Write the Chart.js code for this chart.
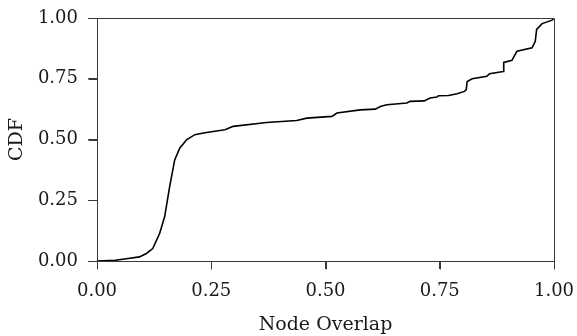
<!DOCTYPE html>
<html>
<head>
<meta charset="utf-8">
<script src="https://cdn.jsdelivr.net/npm/chart.js@4"></script>
<style>
  html, body { margin: 0; padding: 0; background: #fff; }
  #wrap { width: 577px; height: 336px; }
</style>
</head>
<body>
<div id="wrap"><canvas id="cdf"></canvas></div>
<script>
// node overlap values and the CDF
const overlap = [0.000, 0.040, 0.068, 0.093, 0.108, 0.122, 0.137, 0.148, 0.159, 0.170, 0.181, 0.196,
                 0.214, 0.236, 0.280, 0.298, 0.371, 0.437, 0.459, 0.514, 0.525, 0.576, 0.609, 0.620,
                 0.634, 0.678, 0.685, 0.716, 0.729, 0.744, 0.747, 0.769, 0.788, 0.804, 0.808, 0.810,
                 0.821, 0.853, 0.859, 0.889, 0.890, 0.908, 0.912, 0.919, 0.952, 0.959, 0.962, 0.974,
                 0.996, 1.000];
const cdf     = [0.000, 0.003, 0.010, 0.017, 0.031, 0.051, 0.113, 0.182, 0.306, 0.416, 0.464, 0.499,
                 0.520, 0.528, 0.540, 0.554, 0.570, 0.578, 0.588, 0.595, 0.609, 0.622, 0.625, 0.636,
                 0.643, 0.650, 0.657, 0.659, 0.671, 0.675, 0.680, 0.681, 0.688, 0.698, 0.705, 0.739,
                 0.750, 0.760, 0.771, 0.780, 0.817, 0.826, 0.840, 0.863, 0.877, 0.904, 0.953, 0.977,
                 0.991, 1.000];
const tickVals = [0, 0.25, 0.5, 0.75, 1];

const FONT = 'DejaVu Serif';
const AXIS = '#3a3a3a';
const TEXT = '#1a1a1a';

// top/right spines plus the outward tick marks
const boxPlugin = {
  id: 'box',
  afterDraw(chart) {
    const a = chart.chartArea, ctx = chart.ctx;
    const L = Math.round(a.left) + 0.5, R = Math.round(a.right) + 0.5;
    const T = Math.round(a.top) + 0.5, B = Math.round(a.bottom) + 0.5;
    ctx.save();
    ctx.strokeStyle = AXIS;
    ctx.lineWidth = 1;
    ctx.beginPath();
    ctx.moveTo(L, T); ctx.lineTo(R, T); ctx.lineTo(R, B);
    tickVals.forEach(v => {
      const x = Math.round(chart.scales.x.getPixelForValue(v)) + 0.5;
      ctx.moveTo(x, B); ctx.lineTo(x, B + 8);
      const y = Math.round(chart.scales.y.getPixelForValue(v)) + 0.5;
      ctx.moveTo(L, y); ctx.lineTo(L - 9, y);
    });
    ctx.stroke();
    ctx.restore();
  }
};

function axisOpts(title, tickLen, pad, titlePad) {
  return {
    type: 'linear', min: 0, max: 1,
    afterBuildTicks: s => { s.ticks = tickVals.map(v => ({ value: v })); },
    ticks: {
      color: TEXT, padding: pad, maxRotation: 0, autoSkip: false,
      font: { family: FONT, size: 18 },
      callback: v => Number(v).toFixed(2)
    },
    grid: { display: true, drawOnChartArea: false, drawTicks: true, tickLength: tickLen,
            color: AXIS, tickColor: AXIS, lineWidth: 1, tickWidth: 1 },
    border: { display: true, color: AXIS, width: 1 },
    title: { display: true, text: title, color: TEXT, font: { family: FONT, size: 19 }, padding: titlePad }
  };
}

const xAxis = axisOpts('Node Overlap', 8, 12, { top: 0, bottom: 0 });
xAxis.afterFit = s => { s.height = 75; s.paddingLeft = 0; s.paddingRight = 0; };
const yAxis = axisOpts('CDF', 9, 10, { top: 6, bottom: 0 });
yAxis.afterFit = s => { s.width = 97; s.paddingTop = 0; s.paddingBottom = 0; };

new Chart(document.getElementById('cdf'), {
  type: 'scatter',
  data: {
    datasets: [{
      data: overlap.map((v, i) => ({ x: v, y: cdf[i] })),
      showLine: true,
      borderColor: '#000',
      borderWidth: 1.6,
      pointRadius: 0,
      tension: 0
    }]
  },
  options: {
    responsive: true,
    maintainAspectRatio: false,
    animation: false,
    layout: { padding: { left: 0, right: 23, top: 18, bottom: 0 } },
    plugins: { legend: { display: false }, tooltip: { enabled: false } },
    scales: { x: xAxis, y: yAxis }
  },
  plugins: [boxPlugin]
});
</script>
</body>
</html>
